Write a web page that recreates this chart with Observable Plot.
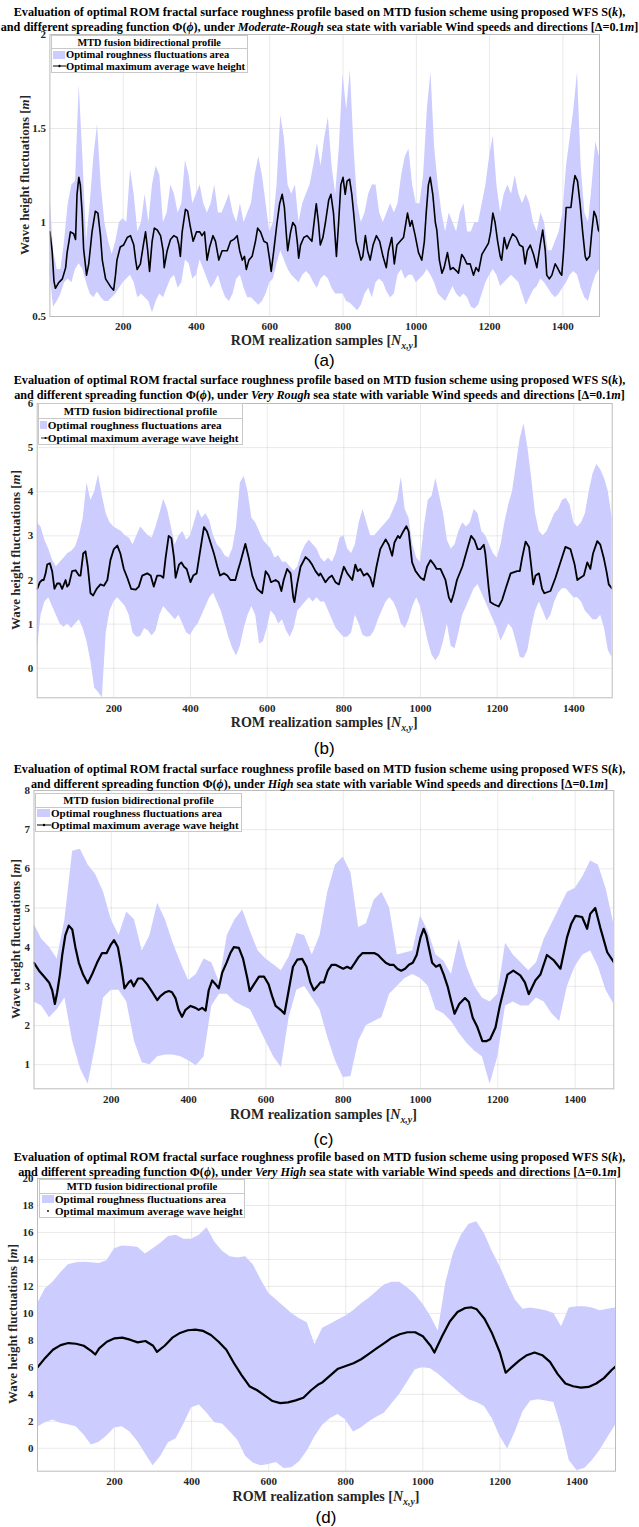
<!DOCTYPE html>
<html>
<head>
<meta charset="utf-8">
<script src="https://cdn.jsdelivr.net/npm/d3@7"></script>
<script src="https://cdn.jsdelivr.net/npm/@observablehq/plot@0.6"></script>
<style>
  html,body{margin:0;padding:0;background:#fff;}
  #page{position:relative;width:639px;height:1527px;overflow:hidden;font-family:"Liberation Serif","Times New Roman",serif;color:#000;}
  .ttl{position:absolute;left:0;width:639px;text-align:center;font-weight:bold;font-size:12.2px;white-space:nowrap;line-height:14px;transform:translateY(-50%);}
  .xt{position:absolute;transform:translate(-50%,-50%);font-weight:bold;font-size:14px;white-space:nowrap;color:#262626;line-height:16px;}
  .yt{position:absolute;transform:translate(-50%,-50%) rotate(-90deg);font-weight:bold;font-size:13px;white-space:nowrap;color:#262626;line-height:16px;}
  .cap{position:absolute;transform:translate(-50%,-50%);font-family:"Liberation Sans",Arial,sans-serif;font-size:17px;line-height:17px;}
  .leg{position:absolute;background:#fff;border:1px solid #c8c8c8;box-sizing:border-box;font-weight:bold;white-space:nowrap;color:#000;}
  .leg .lt{box-sizing:border-box;border-bottom:1px solid #c8c8c8;display:flex;align-items:center;justify-content:center;}
  .leg .row{display:flex;align-items:center;position:relative;}
  .leg .ic{position:absolute;top:50%;transform:translateY(-50%);}
  .xt sub{font-size:70%;vertical-align:-0.45em;line-height:0;}
</style>
</head>
<body>
<div id="page"></div>
<script>
// ---------------- DATA ----------------
const xTicks = [200, 400, 600, 800, 1000, 1200, 1400];
const seaStates = ["Moderate-Rough", "Very Rough", "High", "Very High"];
const captions = ["(a)", "(b)", "(c)", "(d)"];
const yTicksA = [0.5, 1, 1.5, 2];
const yTicksB = [0, 1, 2, 3, 4, 5, 6];
const yTicksC = [1, 2, 3, 4, 5, 6, 7, 8];
const yTicksD = [0, 2, 4, 6, 8, 10, 12, 14, 16, 18, 20];

// Panel (a): envelope sampled every 10 samples
const bandStepA = 10;
const upperA = [1.15,0.85,0.75,0.75,0.9,1.1,1.2,1.22,1.73,1.35,
 0.9,1.1,1.35,1.52,1.2,1.0,0.9,0.83,0.9,1.0,
 1.02,1.0,1.28,1.15,0.95,1.0,1.15,1.0,1.2,1.3,
 1.25,1.0,1.05,1.2,1.15,1.05,1.1,1.33,1.25,1.1,
 1.15,1.2,1.1,1.05,1.1,1.2,1.05,1.05,1.1,1.15,
 1.05,1.0,1.1,1.0,1.05,1.1,1.25,1.35,1.25,1.1,
 0.95,1.0,1.2,1.57,1.45,1.2,1.15,1.2,1.0,1.1,
 1.15,1.2,1.3,1.42,1.3,1.45,1.56,1.3,1.15,1.4,
 1.79,1.6,1.81,1.4,1.1,1.0,1.05,1.15,1.2,1.2,
 1.05,1.0,1.05,1.1,1.05,1.1,1.25,1.35,1.39,1.2,
 1.1,1.1,1.25,1.6,1.8,1.4,1.2,1.05,0.95,1.05,
 1.0,0.95,1.05,1.1,0.95,0.95,1.0,1.0,1.1,1.2,
 1.35,1.46,1.2,1.05,1.15,1.2,1.15,1.25,1.15,1.1,
 1.15,1.1,1.0,0.95,1.05,1.0,0.85,0.85,0.9,0.95,
 1.05,1.3,1.45,1.6,1.8,1.3,1.05,1.0,1.2,1.43,
 1.35];
const lowerA = [0.72,0.55,0.58,0.62,0.68,0.7,0.68,0.75,0.78,0.75,
 0.68,0.62,0.6,0.63,0.6,0.58,0.58,0.6,0.62,0.65,
 0.68,0.7,0.72,0.68,0.6,0.62,0.6,0.58,0.52,0.58,
 0.62,0.6,0.65,0.7,0.72,0.65,0.68,0.8,0.78,0.7,
 0.72,0.8,0.75,0.7,0.65,0.68,0.72,0.65,0.6,0.58,
 0.62,0.7,0.72,0.65,0.6,0.6,0.58,0.56,0.58,0.62,
 0.68,0.7,0.78,0.85,0.8,0.75,0.72,0.7,0.68,0.72,
 0.74,0.72,0.68,0.65,0.7,0.72,0.7,0.65,0.62,0.62,
 0.62,0.58,0.57,0.55,0.53,0.56,0.62,0.65,0.6,0.68,
 0.7,0.68,0.63,0.6,0.62,0.72,0.75,0.7,0.72,0.72,
 0.68,0.7,0.72,0.75,0.72,0.68,0.62,0.6,0.58,0.62,
 0.66,0.62,0.6,0.62,0.6,0.55,0.54,0.56,0.62,0.68,
 0.72,0.75,0.72,0.66,0.68,0.7,0.72,0.7,0.68,0.62,
 0.56,0.6,0.64,0.66,0.7,0.68,0.65,0.62,0.6,0.62,
 0.65,0.68,0.72,0.74,0.72,0.65,0.6,0.58,0.66,0.72,
 0.75];
const lineAX = [0,6,11,15,24,34,43,47,52,56,65,70,74,79,83,88,92,100,106,115,124,131,138,143,152,165,174,179,183,192,201,211,220,229,234,238,247,255,261,267,272,279,285,293,302,309,312,320,329,338,347,352,356,361,370,376,383,391,400,409,415,422,429,436,445,452,461,470,484,493,502,511,518,525,531,536,543,552,561,567,575,584,593,600,604,611,620,627,634,640,646,649,657,663,670,675,679,684,693,702,715,727,733,738,745,752,761,767,774,782,788,794,800,806,811,818,824,829,836,843,849,854,861,867,874,882,891,900,909,918,924,933,940,947,956,965,976,983,988,997,1006,1015,1022,1027,1033,1038,1045,1052,1056,1063,1070,1076,1085,1093,1100,1111,1115,1124,1131,1138,1147,1156,1163,1170,1179,1188,1197,1203,1209,1215,1222,1229,1233,1240,1247,1254,1263,1273,1282,1291,1297,1303,1311,1320,1329,1338,1345,1352,1356,1363,1370,1379,1385,1393,1397,1402,1409,1415,1422,1429,1433,1440,1447,1454,1461,1465,1473,1479,1485,1491,1497,1500];
const lineAY = [0.95,0.85,0.69,0.65,0.68,0.7,0.76,0.84,0.9,0.95,0.94,0.91,1.15,1.24,1.2,1.05,0.86,0.72,0.78,0.95,1.06,1.05,0.93,0.8,0.7,0.66,0.64,0.72,0.8,0.87,0.88,0.92,0.93,0.88,0.8,0.75,0.78,0.88,0.95,0.85,0.74,0.9,0.97,0.96,0.93,0.85,0.76,0.85,0.91,0.93,0.92,0.88,0.82,0.95,1.07,1.06,0.98,0.9,0.95,0.95,0.93,0.95,0.8,0.87,0.93,0.9,0.8,0.85,0.85,0.9,0.91,0.93,0.85,0.8,0.82,0.75,0.8,0.82,0.9,0.97,0.95,0.9,0.89,0.8,0.74,0.85,1.0,1.1,1.15,1.08,0.92,0.85,0.95,1.0,0.98,0.9,0.81,0.88,0.92,0.93,0.9,1.1,1.0,0.88,0.92,1.0,1.12,1.15,1.05,0.82,1.0,1.2,1.24,1.15,1.22,1.23,1.15,1.05,0.9,0.85,0.8,0.82,0.93,0.85,0.8,0.88,0.93,0.9,0.82,0.76,0.85,0.92,0.78,0.88,0.9,0.92,1.05,0.98,1.01,0.93,0.84,0.8,0.9,1.05,1.2,1.24,1.15,1.0,0.96,0.8,0.73,0.76,0.84,0.75,0.76,0.74,0.73,0.83,0.81,0.78,0.78,0.72,0.76,0.74,0.83,0.86,0.89,0.95,1.05,1.0,0.9,0.82,0.8,0.92,0.86,0.9,0.94,0.92,0.88,0.87,0.78,0.85,0.88,0.83,0.76,0.88,0.96,0.85,0.72,0.7,0.72,0.78,0.76,0.73,0.72,0.85,1.08,1.08,1.08,1.2,1.25,1.22,1.1,0.95,0.82,0.8,0.82,0.95,1.06,1.03,0.96,0.95];

// Panel (b): envelope sampled every 10 samples
const bandStepB = 10;
const upperB = [3.3,3.2,2.9,2.7,2.45,2.3,2.4,2.5,2.6,2.65,
 2.75,3.0,3.4,4.2,3.8,4.0,4.38,3.9,3.5,3.3,
 3.2,3.15,3.1,3.0,2.95,2.8,3.0,3.2,3.1,3.0,
 2.95,3.2,3.5,3.83,3.6,3.2,2.8,3.0,3.1,2.9,
 3.0,3.3,3.6,3.4,3.5,3.35,3.0,2.8,2.7,2.55,
 2.5,2.7,3.2,4.2,4.35,4.0,3.4,3.3,3.1,2.9,
 2.8,2.7,2.5,2.55,2.4,2.4,2.3,2.2,2.3,2.6,
 2.8,2.9,2.8,2.7,2.5,2.4,2.5,2.4,2.6,2.95,
 3.0,2.7,2.6,2.8,3.3,3.6,3.3,3.0,3.0,3.1,
 3.2,3.3,3.4,3.6,3.8,4.33,3.6,3.4,2.8,2.5,
 2.4,3.2,3.8,3.9,4.3,3.9,3.5,2.9,2.7,2.8,
 3.1,3.3,3.2,3.3,3.6,3.5,3.1,3.0,2.8,2.6,
 2.5,2.8,3.3,3.7,4.0,4.6,5.2,5.54,5.0,4.3,
 3.5,3.1,3.0,3.1,3.3,3.5,3.6,3.8,3.85,3.7,
 3.3,3.2,3.3,3.5,4.0,4.4,4.62,4.5,4.3,4.0,
 3.4];
const lowerB = [0.4,1.2,1.5,1.6,1.4,1.2,1.0,0.93,1.0,0.9,
 1.0,1.1,0.9,0.6,0.15,-0.45,-0.55,-0.67,0.8,1.3,
 1.5,1.6,1.5,1.4,1.2,0.8,0.7,0.72,0.9,0.85,
 0.73,0.85,1.2,1.4,1.3,1.2,1.1,1.2,1.0,0.8,
 0.75,0.9,1.0,1.2,1.4,1.6,1.7,1.5,1.3,1.0,
 0.7,0.45,0.28,0.5,0.9,1.2,1.4,1.2,0.55,0.6,
 0.9,1.3,1.2,1.0,1.1,0.85,0.7,0.9,1.3,1.4,
 1.5,1.6,1.5,1.6,1.5,1.5,1.3,1.1,0.9,0.8,
 0.7,0.7,0.8,1.2,1.0,0.75,0.7,0.72,0.85,1.1,
 1.3,1.5,1.6,1.5,1.3,1.0,0.9,1.1,1.4,1.6,
 1.4,1.0,0.6,0.3,0.17,0.3,0.6,1.0,0.5,0.44,
 0.8,1.2,1.4,1.6,1.8,1.9,1.7,1.5,1.3,1.1,
 0.9,0.62,0.8,1.0,0.9,0.6,0.25,0.22,0.4,0.9,
 1.3,1.5,1.3,1.07,1.2,1.5,1.7,1.8,1.8,1.7,
 1.6,1.6,1.5,1.3,1.2,1.1,1.1,1.2,0.9,0.4,
 0.24];
const lineBX = [0,7,13,17,22,26,33,39,45,52,59,65,74,78,83,91,100,109,113,120,126,132,139,146,155,165,174,183,191,200,209,217,226,235,245,257,265,274,287,296,304,313,322,329,335,343,350,357,361,370,376,383,390,400,407,416,424,435,443,452,461,470,477,487,496,504,517,523,530,543,552,561,574,587,596,604,610,622,630,637,643,652,661,668,671,678,687,700,709,717,726,735,739,752,761,769,778,787,800,809,822,830,836,843,852,861,869,876,885,895,909,917,926,932,941,946,955,963,969,978,987,1000,1009,1017,1026,1035,1042,1052,1065,1074,1080,1087,1095,1109,1122,1132,1141,1149,1156,1165,1169,1178,1182,1191,1204,1213,1222,1235,1252,1259,1265,1274,1283,1289,1294,1300,1309,1317,1323,1339,1352,1365,1378,1391,1402,1409,1417,1426,1435,1443,1450,1461,1469,1478,1485,1491,1500];
const lineBY = [1.8,1.95,2.0,2.0,2.15,2.35,2.38,2.2,1.8,1.92,1.92,1.8,2.0,1.85,1.9,2.2,2.22,2.1,2.1,2.6,2.65,2.3,1.7,1.65,1.8,1.9,1.87,2.0,2.45,2.7,2.78,2.6,2.25,2.05,1.8,1.78,1.85,2.1,2.15,2.1,1.85,2.1,2.1,2.05,2.5,3.0,2.95,2.5,2.05,2.35,2.4,2.3,2.25,1.95,2.1,2.15,2.6,3.2,3.1,2.85,2.6,2.3,2.1,2.15,2.1,2.0,2.0,2.2,2.4,2.82,2.5,2.1,1.8,1.7,2.2,2.1,1.95,2.0,1.95,1.75,2.0,2.25,2.15,1.6,1.5,1.9,2.3,2.52,2.45,2.35,2.2,2.1,2.15,1.95,2.05,2.1,1.95,1.9,2.3,2.15,2.0,2.35,2.2,2.25,2.1,2.15,2.05,1.85,2.3,2.7,2.92,2.8,2.55,2.85,3.0,2.95,3.1,3.22,3.1,2.4,2.2,2.05,2.0,2.3,2.45,2.35,2.25,2.25,2.0,1.6,1.5,1.7,2.0,2.3,2.7,3.0,2.9,2.7,2.7,2.8,2.6,1.8,1.5,1.45,1.4,1.55,1.8,2.15,2.2,2.2,2.5,2.87,2.75,2.3,1.9,2.1,2.15,1.8,1.7,1.75,2.05,2.4,2.75,2.7,2.35,2.0,2.05,2.1,2.4,2.25,2.6,2.88,2.8,2.5,2.2,1.9,1.8];

// Panel (c): envelope sampled every 20 samples
const bandStepC = 20;
const upperC = [4.6,4.2,4.0,3.7,4.7,6.45,6.5,6.1,5.85,5.4,
 4.7,4.3,4.9,4.7,3.9,4.3,5.12,4.7,4.1,3.6,
 3.15,3.3,3.7,3.6,3.1,4.3,4.7,4.95,4.4,3.9,
 3.7,3.55,3.4,3.75,4.35,4.3,3.8,4.3,5.4,6.1,
 6.3,5.9,4.5,4.6,5.2,5.4,5.0,3.8,3.85,3.9,
 4.8,4.4,3.8,3.65,3.3,4.2,3.5,3.0,2.7,2.6,
 2.8,4.1,3.8,3.6,3.4,3.6,4.2,4.6,5.0,5.4,
 5.5,5.8,6.2,6.1,5.5,4.6];
const lowerC = [2.6,2.5,2.2,2.4,2.7,1.6,0.9,0.5,1.5,2.7,
 2.9,2.9,2.6,1.6,1.05,1.0,1.2,1.25,1.25,1.2,
 1.1,0.97,1.2,2.5,2.8,2.8,2.6,2.5,2.4,2.0,
 1.6,1.2,0.93,2.2,2.9,3.0,2.7,2.4,1.7,1.1,
 0.67,0.7,1.6,2.0,2.1,2.2,2.8,3.0,3.2,3.3,
 3.2,3.0,2.4,2.3,2.1,1.8,1.55,1.35,1.2,0.5,
 1.2,2.5,2.6,2.5,2.5,2.7,2.6,2.3,2.1,3.0,
 3.5,3.8,3.9,3.5,2.9,2.55];
const lineCX = [0,13,26,39,47,54,60,67,73,81,90,99,107,116,127,139,150,163,176,188,198,207,217,226,234,245,251,258,269,280,293,306,319,327,340,349,357,366,374,383,392,405,418,426,435,444,452,461,470,478,487,498,508,517,530,541,552,558,569,582,595,607,616,625,638,648,659,670,681,694,705,715,724,733,741,750,760,770,780,790,800,810,820,830,840,850,860,870,880,890,900,910,920,930,940,950,960,970,980,990,1000,1008,1015,1030,1040,1050,1060,1070,1080,1088,1100,1115,1125,1135,1147,1160,1170,1180,1194,1205,1215,1225,1240,1258,1270,1280,1297,1310,1327,1345,1362,1379,1390,1401,1418,1431,1439,1452,1465,1483,1500];
const lineCY = [3.6,3.4,3.25,3.1,2.9,2.55,2.85,3.3,3.8,4.3,4.55,4.45,4.0,3.6,3.3,3.08,3.3,3.6,3.85,3.85,4.05,4.18,4.0,3.5,2.95,3.1,3.15,3.0,3.2,3.2,3.05,2.85,2.65,2.75,2.85,2.88,2.85,2.7,2.4,2.22,2.4,2.5,2.45,2.4,2.45,2.38,2.9,3.15,3.05,2.95,3.35,3.6,3.85,4.0,3.98,3.7,3.2,2.88,3.05,3.25,3.25,3.05,2.75,2.5,2.4,2.3,2.9,3.5,3.68,3.7,3.5,3.1,2.9,3.0,3.1,3.1,3.4,3.55,3.55,3.5,3.45,3.5,3.45,3.6,3.75,3.85,3.85,3.85,3.85,3.8,3.7,3.6,3.55,3.55,3.45,3.4,3.45,3.55,3.6,3.8,4.25,4.47,4.3,3.6,3.5,3.55,3.3,3.0,2.6,2.3,2.55,2.7,2.6,2.2,1.96,1.6,1.6,1.65,1.95,2.5,2.9,3.3,3.4,3.28,3.1,2.8,3.15,3.3,3.8,3.66,3.45,4.25,4.6,4.8,4.77,4.47,4.85,5.0,4.5,3.87,3.62];

// Panel (d): envelope sampled every 20 samples
const bandStepD = 20;
const upperD = [10.7,11.8,12.3,13.0,13.6,13.75,13.8,13.75,13.7,13.9,
 14.8,15.0,14.95,14.9,14.4,14.8,15.2,15.7,15.8,15.5,
 15.5,15.8,16.35,15.3,14.6,14.2,14.1,14.2,13.6,12.5,
 11.5,11.0,10.5,10.0,9.6,9.3,7.7,8.9,9.2,9.5,
 9.8,10.2,10.7,11.1,11.6,12.1,12.3,12.3,11.9,11.4,
 10.7,9.8,8.7,12.3,14.5,15.8,16.6,16.8,15.9,14.6,
 13.5,12.2,11.0,10.3,10.4,10.3,10.2,10.0,9.0,10.4,
 10.5,10.5,10.4,10.2,10.3,10.4];
const lowerD = [1.55,1.9,2.1,1.85,1.75,1.6,1.0,0.25,0.45,0.9,
 1.5,1.6,1.2,0.5,-0.4,-1.3,-0.6,0.4,0.7,1.8,
 3.0,3.2,2.6,1.9,1.8,1.2,0.6,-0.6,-1.1,-1.3,
 -1.2,-1.05,-1.5,-1.45,-1.0,-0.2,0.85,1.7,2.2,2.5,
 2.1,1.2,1.5,1.95,2.3,2.6,3.3,4.0,4.9,5.8,
 6.0,5.9,5.5,5.0,4.5,4.0,3.6,3.4,3.1,2.2,
 0.9,-0.05,1.2,2.7,3.5,3.6,3.5,3.4,1.5,-0.9,
 -1.65,-1.5,-0.9,-0.15,0.8,1.7];
const lineDX = [0,20,40,60,80,100,120,140,150,160,180,200,220,240,260,280,300,310,330,350,370,390,410,430,450,470,490,510,530,550,570,590,610,630,650,670,690,710,730,740,760,780,800,820,840,860,880,900,920,940,960,980,1000,1020,1030,1050,1070,1090,1110,1125,1140,1160,1180,1200,1215,1230,1250,1270,1290,1310,1330,1350,1370,1390,1410,1430,1450,1470,1490,1500];
const lineDY = [6.0,6.7,7.3,7.65,7.8,7.75,7.6,7.2,6.95,7.4,7.9,8.15,8.2,8.05,7.85,7.95,7.6,7.15,7.6,8.2,8.55,8.75,8.8,8.7,8.4,7.9,7.3,6.3,5.4,4.6,4.3,3.9,3.5,3.35,3.4,3.55,3.75,4.3,4.75,4.9,5.4,5.9,6.1,6.3,6.6,7.0,7.4,7.8,8.2,8.45,8.6,8.6,8.3,7.6,7.1,8.3,9.4,10.1,10.4,10.45,10.3,9.6,8.5,7.1,5.6,6.0,6.5,6.9,7.1,6.9,6.4,5.5,4.8,4.6,4.5,4.55,4.8,5.2,5.8,6.05];

// ---------------- LAYOUT ----------------
const FILL = "#ccccff";
const panels = [
  {band:[bandStepA, upperA, lowerA], line:[lineAX, lineAY], yDomain:[0.5, 2], yTicks:yTicksA, lw:1.6,
   left:49.4, right:599, top:34, bottom:316, titleY:[12, 26.5], xTitleY:341, yTitleX:25, capY:360,
   leg:{left:50.7, top:35, w:197, h:38, sep:13.3, fs:10.5, tfs:10.3, sw:[1, 12.3], tx:14.3, icon:"a"}},
  {band:[bandStepB, upperB, lowerB], line:[lineBX, lineBY], yDomain:[-0.67, 6], yTicks:yTicksB, lw:1.8,
   left:36.7, right:611.7, top:403, bottom:697.3, titleY:[380, 395], xTitleY:723, yTitleX:15.5, capY:748,
   leg:{left:37.7, top:403, w:205.5, h:42, sep:15, fs:11.2, tfs:11, sw:[1, 7], tx:9, icon:"b"}},
  {band:[bandStepC, upperC, lowerC], line:[lineCX, lineCY], yDomain:[0.384, 8], yTicks:yTicksC, lw:2.2,
   left:33.5, right:613.3, top:790, bottom:1088.3, titleY:[769, 784], xTitleY:1115, yTitleX:16, capY:1139,
   leg:{left:35, top:793, w:207, h:39, sep:13.5, fs:11, tfs:10.8, sw:[1, 13.3], tx:15, icon:"c"}},
  {band:[bandStepD, upperD, lowerD], line:[lineDX, lineDY], yDomain:[-1.7, 20], yTicks:yTicksD, lw:2.2,
   left:37, right:615, top:1178, bottom:1470.7, titleY:[1157, 1171.5], xTitleY:1497, yTitleX:12.5, capY:1517,
   leg:{left:39, top:1179, w:206, h:38.5, sep:13.5, fs:11, tfs:10.8, sw:[1.7, 12.6], tx:15, icon:"d"}}
];

const page = document.getElementById("page");
function addDiv(cls, html, style) {
  const d = document.createElement("div");
  d.className = cls; d.innerHTML = html;
  Object.assign(d.style, style);
  page.appendChild(d);
  return d;
}

panels.forEach((p, k) => {
  const [step, up, lo] = p.band;
  const band = up.map((u, i) => ({x: i * step, hi: u, lo: lo[i]}));
  const line = p.line[0].map((x, i) => ({x, y: p.line[1][i]}));
  const mt = 6, mb = 22;
  const svg = Plot.plot({
    width: 639,
    height: (p.bottom - p.top) + mt + mb,
    marginTop: mt, marginBottom: mb,
    marginLeft: p.left, marginRight: 639 - p.right,
    x: {domain: [0, 1500]},
    y: {domain: p.yDomain},
    style: {fontFamily: "'Liberation Serif', 'Times New Roman', serif", fontSize: "11px", fontWeight: "bold",
            color: "#262626", background: "transparent", overflow: "visible"},
    marks: [
      Plot.ruleX(xTicks, {stroke: "#000", strokeOpacity: 0.09}),
      Plot.ruleY(p.yTicks, {stroke: "#000", strokeOpacity: 0.09}),
      Plot.areaY(band, {x: "x", y1: "lo", y2: "hi", fill: FILL, clip: true}),
      Plot.line(line, {x: "x", y: "y", stroke: "#000", strokeWidth: p.lw, clip: true}),
      Plot.frame({stroke: "#bcbcbc"}),
      Plot.axisX({ticks: xTicks, tickSize: 0, tickPadding: 6, tickFormat: d => String(d), label: null}),
      Plot.axisY({ticks: p.yTicks, tickSize: 0, tickPadding: 4, tickFormat: d => String(d), label: null})
    ]
  });
  svg.style.position = "absolute";
  svg.style.left = "0px";
  svg.style.top = (p.top - mt) + "px";
  page.appendChild(svg);

  // Titles
  addDiv("ttl", "Evaluation of optimal ROM fractal surface roughness profile based on MTD fusion scheme using proposed WFS S(<i>k</i>),",
    {top: p.titleY[0] + "px"});
  addDiv("ttl", "and different spreading function \u03A6(<i>\u03D5</i>), under <i>" + seaStates[k] +
    "</i> sea state with variable Wind speeds and directions [\u0394=0.1<i>m</i>]", {top: p.titleY[1] + "px"});

  const cx = (p.left + p.right) / 2;
  addDiv("xt", "ROM realization samples [<i>N</i><sub><i>x,y</i></sub>]", {left: cx + "px", top: p.xTitleY + "px"});
  addDiv("yt", "Wave height fluctuations [<i>m</i>]", {left: p.yTitleX + "px", top: ((p.top + p.bottom) / 2) + "px"});
  addDiv("cap", captions[k], {left: cx + "px", top: p.capY + "px"});

  // Legend
  const L = p.leg;
  const rowH = (L.h - L.sep - 2) / 2;
  let lineIcon;
  if (L.icon === "a") lineIcon = `<svg class="ic" style="left:1px" width="13" height="8"><line x1="0" y1="4" x2="13" y2="4" stroke="#000" stroke-width="1"/><circle cx="6.5" cy="4" r="1.2" fill="#000"/></svg>`;
  else if (L.icon === "b") lineIcon = `<svg class="ic" style="left:2px" width="7" height="8"><line x1="0" y1="4" x2="7" y2="4" stroke="#000" stroke-width="0.8"/><circle cx="4.5" cy="4" r="1" fill="#000"/></svg>`;
  else if (L.icon === "c") lineIcon = `<svg class="ic" style="left:1px" width="14" height="8"><line x1="0" y1="4" x2="14" y2="4" stroke="#000" stroke-width="1"/><circle cx="7" cy="4" r="1.2" fill="#000"/></svg>`;
  else lineIcon = `<svg class="ic" style="left:1px" width="14" height="8"><circle cx="7" cy="4" r="0.9" fill="#000"/></svg>`;
  const html =
    `<div class="lt" style="height:${L.sep}px;font-size:${L.tfs}px">MTD fusion bidirectional profile</div>` +
    `<div class="row" style="height:${rowH}px;font-size:${L.fs}px"><span class="ic" style="left:${L.sw[0]}px;width:${L.sw[1]}px;height:8px;background:${FILL}"></span><span style="margin-left:${L.tx}px">Optimal roughness fluctuations area</span></div>` +
    `<div class="row" style="height:${rowH}px;font-size:${L.fs}px">${lineIcon}<span style="margin-left:${L.tx}px">Optimal maximum average wave height</span></div>`;
  addDiv("leg", html, {left: L.left + "px", top: L.top + "px", width: L.w + "px", height: L.h + "px"});
});
</script>
</body>
</html>
